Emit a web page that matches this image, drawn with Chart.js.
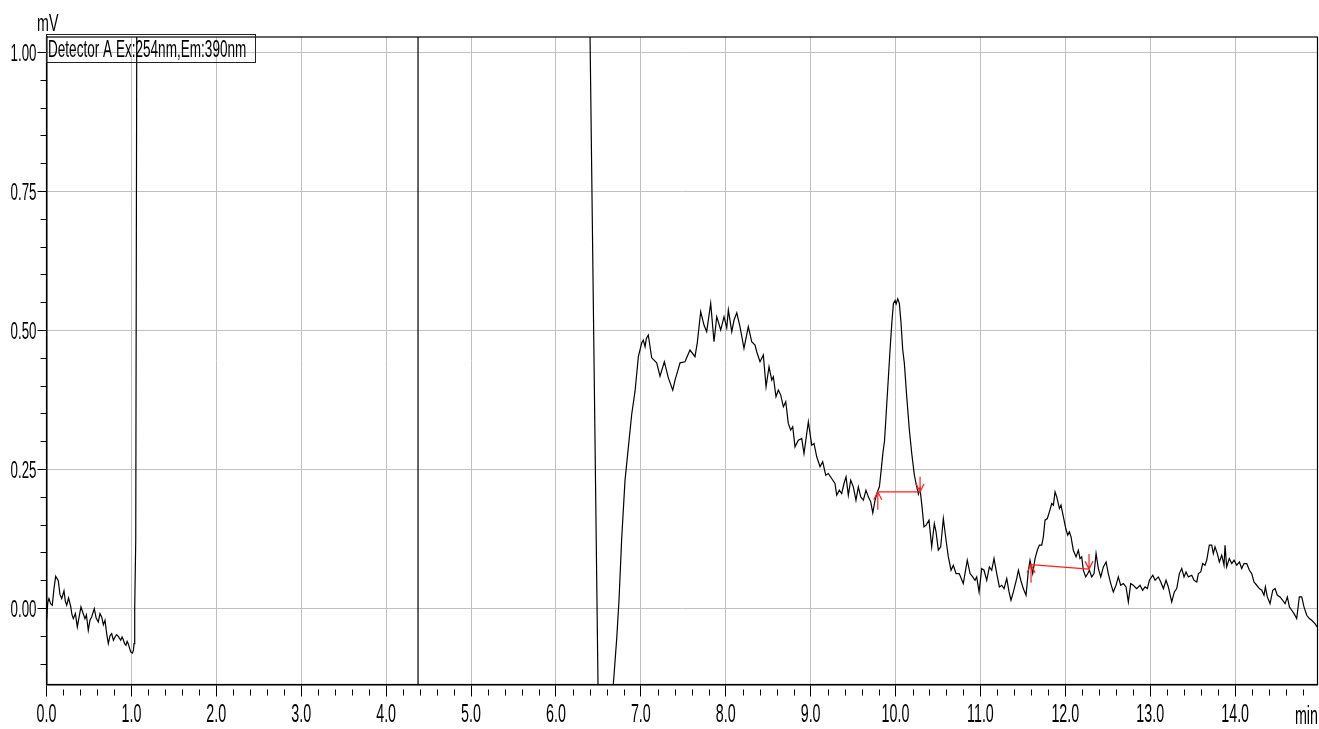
<!DOCTYPE html>
<html>
<head>
<meta charset="utf-8">
<title>Detector A Ex:254nm,Em:390nm</title>
<script src="https://cdn.jsdelivr.net/npm/chart.js@4.4.1/dist/chart.umd.min.js"></script>
<style>
  html, body { margin: 0; padding: 0; background: #fff; }
  canvas { display: block; }
</style>
</head>
<body>
<canvas id="chrom" width="1319" height="729"></canvas>
<script>
// 1.30 / -0.25 = fuera de escala (la linea sale del area y se recorta).
const retentionTime = [
    0.000, 0.015, 0.029, 0.048, 0.068, 0.088, 0.108, 0.139, 0.158, 0.179,
    0.206, 0.222, 0.238, 0.260, 0.285, 0.300, 0.316, 0.340, 0.363, 0.385,
    0.406, 0.428, 0.453, 0.470, 0.492, 0.512, 0.532, 0.563, 0.585, 0.610,
    0.630, 0.650, 0.670, 0.689, 0.708, 0.728, 0.748, 0.768, 0.788, 0.807,
    0.826, 0.846, 0.874, 0.890, 0.905, 0.920, 0.936, 0.950, 0.963, 0.978,
    0.992, 1.011, 1.024, 1.031, 1.039, 1.051, 1.063, 1.070,
    6.380, 6.505, 6.620, 6.676, 6.716, 6.743, 6.775, 6.814, 6.853, 6.893,
    6.932, 6.971, 7.011, 7.029, 7.050, 7.065, 7.088, 7.128, 7.187, 7.226,
    7.277, 7.324, 7.376, 7.403, 7.462, 7.520, 7.579, 7.638, 7.665, 7.705,
    7.744, 7.776, 7.823, 7.862, 7.894, 7.941, 7.980, 8.012, 8.031, 8.071,
    8.098, 8.130, 8.168, 8.215, 8.266, 8.306, 8.345, 8.365, 8.404, 8.443,
    8.475, 8.510, 8.542, 8.561, 8.592, 8.620, 8.648, 8.679, 8.707, 8.737,
    8.765, 8.789, 8.816, 8.855, 8.895, 8.922, 8.973, 9.013, 9.040, 9.072,
    9.111, 9.142, 9.178, 9.208, 9.248, 9.287, 9.307, 9.338, 9.366, 9.393,
    9.417, 9.444, 9.472, 9.503, 9.534, 9.562, 9.590, 9.621, 9.652, 9.680,
    9.708, 9.732, 9.759, 9.786, 9.810, 9.835, 9.852, 9.870, 9.890, 9.916,
    9.936, 9.956, 9.975, 9.995, 10.007, 10.026, 10.045, 10.065, 10.085, 10.104,
    10.132, 10.163, 10.191, 10.221, 10.241, 10.269, 10.288, 10.310, 10.335, 10.360,
    10.394, 10.426, 10.457, 10.477, 10.504, 10.532, 10.563, 10.595, 10.622, 10.654,
    10.681, 10.713, 10.750, 10.798, 10.845, 10.878, 10.909, 10.936, 10.956, 10.984,
    11.015, 11.042, 11.074, 11.105, 11.133, 11.160, 11.192, 11.223, 11.251, 11.278,
    11.310, 11.337, 11.360, 11.388, 11.427, 11.447, 11.475, 11.505, 11.537, 11.565,
    11.584, 11.616, 11.643, 11.670, 11.694, 11.722, 11.741, 11.761, 11.788, 11.812,
    11.840, 11.859, 11.879, 11.899, 11.930, 11.949, 11.977, 12.005, 12.028, 12.047,
    12.067, 12.094, 12.126, 12.153, 12.173, 12.193, 12.212, 12.240, 12.264, 12.283,
    12.311, 12.338, 12.362, 12.389, 12.417, 12.448, 12.480, 12.506, 12.535, 12.565,
    12.597, 12.624, 12.652, 12.683, 12.715, 12.742, 12.770, 12.800, 12.840, 12.880,
    12.910, 12.939, 12.966, 12.990, 13.030, 13.057, 13.096, 13.124, 13.155, 13.186,
    13.213, 13.253, 13.284, 13.312, 13.343, 13.371, 13.398, 13.422, 13.449, 13.489,
    13.516, 13.548, 13.567, 13.595, 13.618, 13.645, 13.665, 13.696, 13.724, 13.743,
    13.763, 13.790, 13.814, 13.842, 13.869, 13.881, 13.900, 13.931, 13.960, 13.987,
    14.019, 14.050, 14.077, 14.104, 14.137, 14.168, 14.195, 14.222, 14.254, 14.285,
    14.313, 14.340, 14.356, 14.379, 14.411, 14.443, 14.470, 14.497, 14.529, 14.560,
    14.588, 14.615, 14.639, 14.666, 14.694, 14.725, 14.756, 14.784, 14.811, 14.843,
    14.874, 14.902, 14.940, 14.980
];
const signalMv = [
    -0.022, 0.010, 0.017, 0.008, 0.005, 0.035, 0.057, 0.049, 0.025, 0.017,
    0.031, 0.012, 0.005, 0.018, 0.003, -0.012, -0.019, -0.010, -0.034, -0.015,
    0.002, -0.008, -0.019, -0.012, -0.040, -0.022, -0.016, -0.001, -0.018, -0.025,
    -0.010, -0.016, -0.030, -0.022, -0.045, -0.064, -0.050, -0.046, -0.058, -0.052,
    -0.048, -0.051, -0.058, -0.052, -0.057, -0.064, -0.067, -0.060, -0.064, -0.072,
    -0.079, -0.081, -0.076, -0.064, 0.000, 0.120, 1.030, 1.300,
    1.300, -0.250, -0.250, -0.138, -0.055, 0.014, 0.126, 0.230, 0.289, 0.349,
    0.390, 0.452, 0.477, 0.482, 0.470, 0.485, 0.491, 0.450, 0.441, 0.417,
    0.443, 0.414, 0.392, 0.410, 0.441, 0.443, 0.464, 0.452, 0.477, 0.533,
    0.509, 0.497, 0.548, 0.479, 0.524, 0.500, 0.524, 0.504, 0.536, 0.497,
    0.518, 0.531, 0.506, 0.467, 0.506, 0.479, 0.473, 0.461, 0.443, 0.455,
    0.398, 0.434, 0.410, 0.416, 0.380, 0.392, 0.383, 0.362, 0.371, 0.332,
    0.320, 0.326, 0.290, 0.302, 0.305, 0.278, 0.335, 0.293, 0.296, 0.272,
    0.254, 0.263, 0.239, 0.242, 0.233, 0.224, 0.203, 0.212, 0.206, 0.224,
    0.236, 0.203, 0.230, 0.218, 0.194, 0.218, 0.200, 0.194, 0.212, 0.200,
    0.191, 0.171, 0.194, 0.209, 0.218, 0.254, 0.280, 0.300, 0.350, 0.415,
    0.466, 0.512, 0.548, 0.553, 0.547, 0.556, 0.548, 0.512, 0.464, 0.440,
    0.380, 0.320, 0.278, 0.240, 0.224, 0.205, 0.215, 0.185, 0.146, 0.149,
    0.158, 0.110, 0.152, 0.137, 0.104, 0.110, 0.161, 0.122, 0.092, 0.068,
    0.077, 0.062, 0.062, 0.044, 0.086, 0.062, 0.056, 0.050, 0.056, 0.029,
    0.071, 0.068, 0.050, 0.074, 0.068, 0.089, 0.062, 0.038, 0.041, 0.035,
    0.053, 0.029, 0.014, 0.029, 0.053, 0.068, 0.050, 0.035, 0.023, 0.068,
    0.086, 0.062, 0.089, 0.104, 0.113, 0.113, 0.128, 0.158, 0.161, 0.173,
    0.188, 0.185, 0.209, 0.200, 0.179, 0.185, 0.164, 0.143, 0.131, 0.137,
    0.128, 0.104, 0.092, 0.104, 0.089, 0.092, 0.068, 0.056, 0.062, 0.068,
    0.056, 0.062, 0.098, 0.071, 0.056, 0.074, 0.083, 0.062, 0.044, 0.029,
    0.041, 0.056, 0.041, 0.044, 0.038, 0.011, 0.044, 0.041, 0.035, 0.041,
    0.032, 0.038, 0.035, 0.050, 0.059, 0.050, 0.056, 0.047, 0.035, 0.050,
    0.038, 0.011, 0.029, 0.035, 0.062, 0.071, 0.056, 0.065, 0.056, 0.059,
    0.050, 0.047, 0.062, 0.065, 0.080, 0.077, 0.086, 0.113, 0.113, 0.098,
    0.110, 0.098, 0.083, 0.095, 0.077, 0.113, 0.074, 0.089, 0.080, 0.086,
    0.077, 0.083, 0.071, 0.080, 0.080, 0.068, 0.062, 0.047, 0.041, 0.035,
    0.032, 0.023, 0.038, 0.020, 0.008, 0.032, 0.035, 0.023, 0.020, 0.014,
    0.008, 0.020, 0.002, -0.004, -0.010, -0.019, 0.020, 0.020, 0.002, -0.013,
    -0.019, -0.022, -0.028, -0.037
];

// Integracion de picos: inicio/fin (min) y nivel de la linea base (mV).
const peakStart = [9.791, 11.596];
const peakEnd = [10.289, 12.279];
const baseAtStart = [0.209, 0.078];
const baseAtEnd = [0.209, 0.070];

// Marca de evento vertical (min).
const eventMarks = [4.376];

const detectorLabel = 'Detector A Ex:254nm,Em:390nm';
const yUnit = 'mV';
const xUnit = 'min';

const X_MAX = 14.97;
const Y_MIN = -0.1375;
const Y_MAX = 1.027;

// Texto comprimido horizontalmente (el original usa una fuente muy estrecha,
// y aqui no hay ninguna "Narrow" instalada).
function narrowText(ctx, str, x, y, align, size, squeeze) {
    ctx.save();
    ctx.translate(x, y);
    ctx.scale(squeeze, 1);
    ctx.font = size + "px 'Liberation Sans', Arial, sans-serif";
    ctx.fillStyle = '#000';
    ctx.textAlign = align;
    ctx.textBaseline = 'alphabetic';
    ctx.fillText(str, 0, 0);
    ctx.restore();
}

const chromDecor = {
    id: 'chromDecor',
    afterDatasetsDraw(chart) {
        const ctx = chart.ctx;
        const xs = chart.scales.x, ys = chart.scales.y;
        ctx.save();
        ctx.strokeStyle = '#ff2020';
        ctx.lineWidth = 1.2;
        for (let i = 0; i < peakStart.length; i++) {
            const x1 = xs.getPixelForValue(peakStart[i]);
            const y1 = ys.getPixelForValue(baseAtStart[i]);
            const x2 = xs.getPixelForValue(peakEnd[i]);
            const y2 = ys.getPixelForValue(baseAtEnd[i]);
            ctx.beginPath();
            ctx.moveTo(x1, y1);
            ctx.lineTo(x2, y2);
            // inicio: flecha hacia arriba
            ctx.moveTo(x1, y1 + 18);
            ctx.lineTo(x1, y1);
            ctx.moveTo(x1 - 4, y1 + 8);
            ctx.lineTo(x1, y1);
            ctx.lineTo(x1 + 4, y1 + 8);
            // fin: flecha hacia abajo
            ctx.moveTo(x2, y2 - 15);
            ctx.lineTo(x2, y2);
            ctx.moveTo(x2 - 4, y2 - 8);
            ctx.lineTo(x2, y2);
            ctx.lineTo(x2 + 4, y2 - 8);
            ctx.stroke();
        }
        ctx.restore();
    },
    afterDraw(chart) {
        const ctx = chart.ctx;
        const a = chart.chartArea;
        const xs = chart.scales.x, ys = chart.scales.y;
        ctx.save();

        // marco del grafico
        ctx.strokeStyle = '#000';
        ctx.lineWidth = 1.2;
        ctx.strokeRect(a.left, a.top, a.right - a.left, a.bottom - a.top);

        // ticks menores: 0.2 min y 0.05 mV
        ctx.lineWidth = 1;
        ctx.beginPath();
        for (let k = 1; k * 0.2 <= xs.max; k++) {
            if (k % 5 === 0) continue;
            const px = Math.round(xs.getPixelForValue(k * 0.2)) + 0.5;
            ctx.moveTo(px, a.bottom + 5);
            ctx.lineTo(px, a.bottom + 11);
        }
        for (let k = Math.ceil(ys.min / 0.05); k * 0.05 <= ys.max; k++) {
            if (k % 5 === 0) continue;
            const py = Math.round(ys.getPixelForValue(k * 0.05)) + 0.5;
            ctx.moveTo(a.left - 6, py);
            ctx.lineTo(a.left, py);
        }
        ctx.stroke();

        // etiquetas de los ticks, tomadas de las escalas de Chart.js
        xs.ticks.forEach(t => {
            narrowText(ctx, Number(t.value).toFixed(1), xs.getPixelForValue(t.value), a.bottom + 37, 'center', 26, 0.55);
        });
        ys.ticks.forEach(t => {
            narrowText(ctx, Number(t.value).toFixed(2), a.left - 10, ys.getPixelForValue(t.value) + 8.5, 'right', 23, 0.58);
        });

        // caja del detector
        ctx.strokeStyle = '#222';
        ctx.lineWidth = 1;
        ctx.strokeRect(46.5, 34.5, 209, 28);
        narrowText(ctx, detectorLabel, 48, 57, 'left', 23, 0.59);

        // unidades
        narrowText(ctx, yUnit, 37, 31, 'left', 23, 0.62);
        narrowText(ctx, xUnit, 1318, 724, 'right', 26, 0.55);
        ctx.restore();
    }
};

const trace = retentionTime.map((t, i) => ({ x: t, y: signalMv[i] }));
const markers = [];
eventMarks.forEach(t => { markers.push({ x: t, y: Y_MIN - 1 }, { x: t, y: Y_MAX + 1 }); });

const chart = new Chart(document.getElementById('chrom'), {
    type: 'line',
    data: {
        datasets: [
            {
                label: detectorLabel,
                data: trace,
                borderColor: '#000',
                borderWidth: 1.2,
                pointRadius: 0,
                tension: 0,
                fill: false
            },
            {
                label: 'evento',
                data: markers,
                borderColor: '#000',
                borderWidth: 1.2,
                pointRadius: 0,
                fill: false
            }
        ]
    },
    plugins: [chromDecor],
    options: {
        responsive: false,
        animation: false,
        devicePixelRatio: 1,
        layout: { padding: { top: 37, right: 1.5, left: 0, bottom: 0 } },
        plugins: {
            legend: { display: false },
            tooltip: { enabled: false }
        },
        scales: {
            x: {
                type: 'linear',
                min: 0,
                max: X_MAX,
                afterFit: s => { s.height = 44.5; },
                border: { color: '#000', width: 1.5 },
                grid: { color: 'rgb(192,192,192)', lineWidth: 1, tickColor: '#000', tickLength: 12 },
                ticks: {
                    display: false,
                    stepSize: 1,
                    includeBounds: false,
                    autoSkip: false,
                    maxRotation: 0
                }
            },
            y: {
                min: Y_MIN,
                max: Y_MAX,
                afterFit: s => { s.width = 46.5; },
                border: { color: '#000', width: 1.5 },
                grid: { color: 'rgb(192,192,192)', lineWidth: 1, tickColor: '#000', tickLength: 9 },
                ticks: {
                    display: false,
                    stepSize: 0.25,
                    includeBounds: false
                }
            }
        }
    }
});
</script>
</body>
</html>
